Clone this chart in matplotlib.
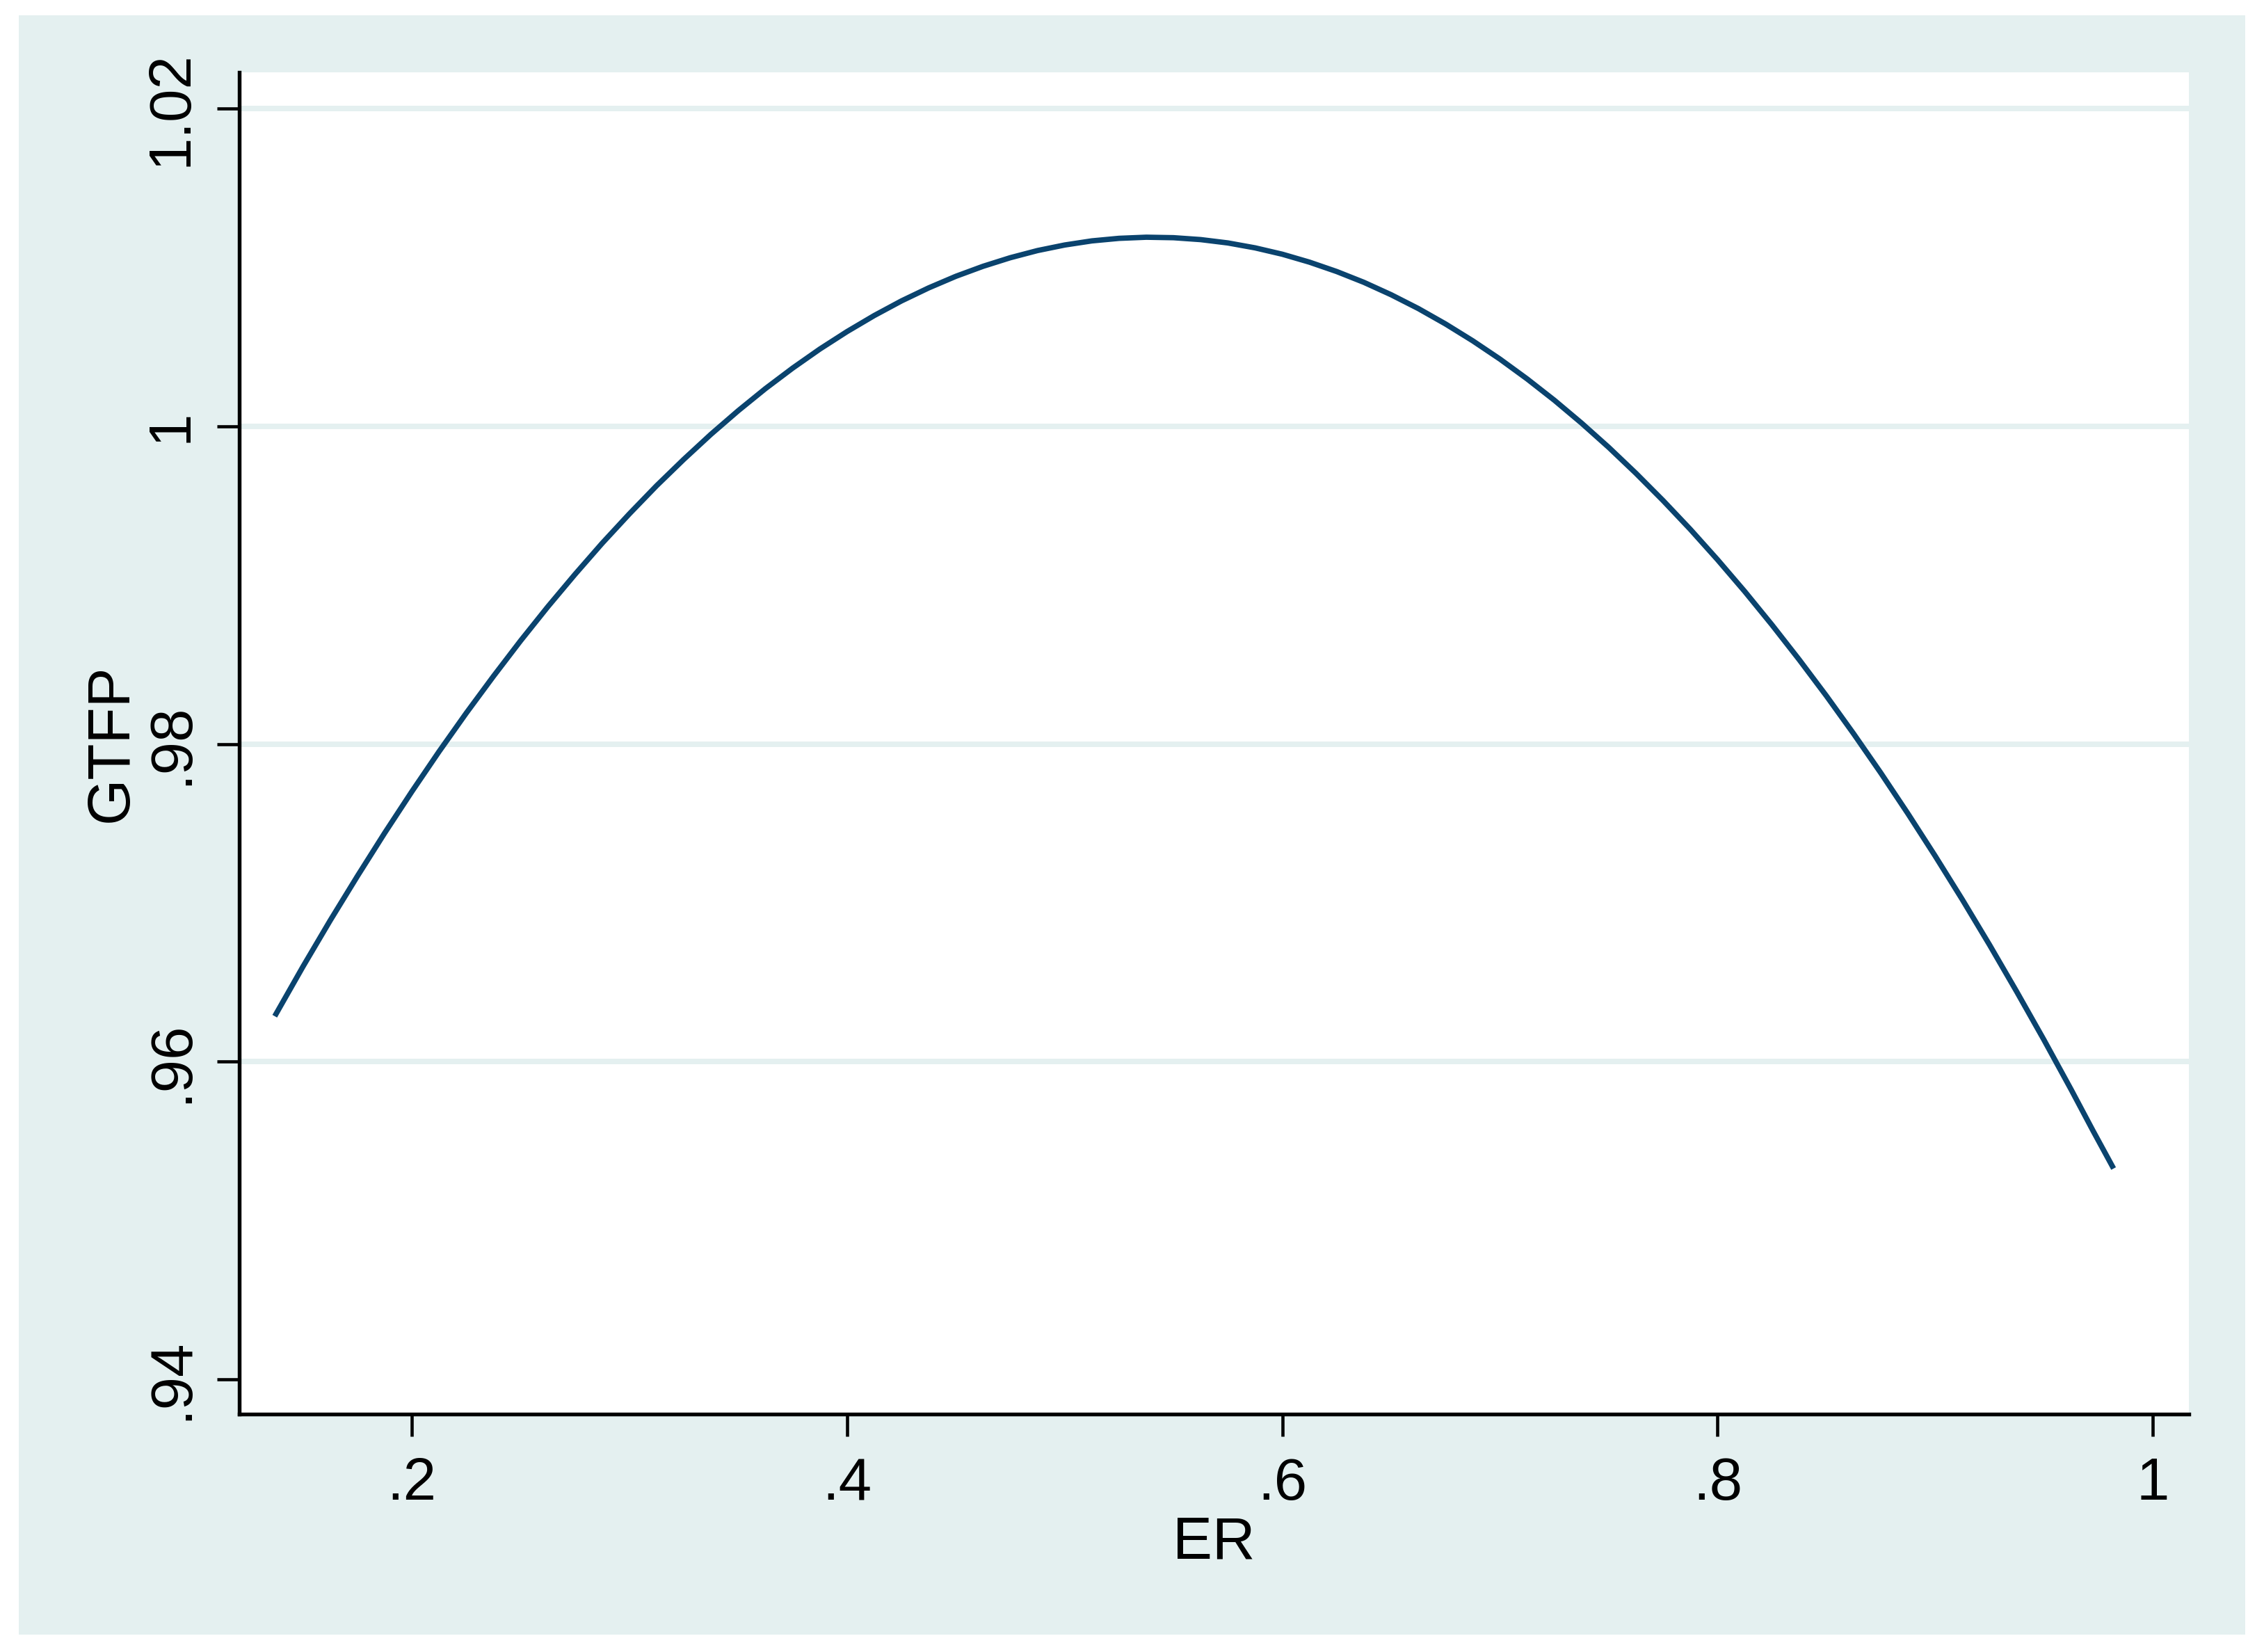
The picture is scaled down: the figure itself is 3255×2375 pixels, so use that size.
import matplotlib
matplotlib.use("Agg")
import matplotlib.pyplot as plt
from matplotlib.patches import Rectangle

# values
er = [0.137, 0.15, 0.1625, 0.175, 0.1875, 0.2, 0.2125, 0.225, 0.2375, 0.25,
      0.2625, 0.275, 0.2875, 0.3, 0.3125, 0.325, 0.3375, 0.35, 0.3625,
      0.375, 0.3875, 0.4, 0.4125, 0.425, 0.4375, 0.45, 0.4625, 0.475,
      0.4875, 0.5, 0.5125, 0.525, 0.5375, 0.55, 0.5625, 0.575, 0.5875, 0.6,
      0.6125, 0.625, 0.6375, 0.65, 0.6625, 0.675, 0.6875, 0.7, 0.7125,
      0.725, 0.7375, 0.75, 0.7625, 0.775, 0.7875, 0.8, 0.8125, 0.825,
      0.8375, 0.85, 0.8625, 0.875, 0.8875, 0.9, 0.9125, 0.925, 0.9375,
      0.95, 0.9625, 0.9725, 0.982]
gtfp = [0.96286, 0.96599, 0.96889, 0.97168, 0.97439, 0.97700, 0.97952,
        0.98194, 0.98426, 0.98650, 0.98864, 0.99068, 0.99264, 0.99449,
        0.99626, 0.99792, 0.99950, 1.00098, 1.00237, 1.00366, 1.00486,
        1.00596, 1.00697, 1.00789, 1.00871, 1.00944, 1.01007, 1.01061,
        1.01106, 1.01141, 1.01167, 1.01183, 1.01190, 1.01187, 1.01175,
        1.01154, 1.01123, 1.01083, 1.01033, 1.00974, 1.00906, 1.00828,
        1.00741, 1.00644, 1.00538, 1.00423, 1.00298, 1.00164, 1.00020,
        0.99867, 0.99704, 0.99532, 0.99351, 0.99160, 0.98960, 0.98750,
        0.98531, 0.98303, 0.98065, 0.97818, 0.97561, 0.97295, 0.97020,
        0.96735, 0.96440, 0.96137, 0.95824, 0.95566, 0.95327]

x_ticks = [0.2, 0.4, 0.6, 0.8, 1.0]
x_tick_labels = [".2", ".4", ".6", ".8", "1"]
y_ticks = [0.94, 0.96, 0.98, 1.0, 1.02]
y_tick_labels = [".94", ".96", ".98", "1", "1.02"]
grid_values = [0.96, 0.98, 1.0, 1.02]

BG = "#E4F0F0"
LINE = "#0A436E"
FONT = ["Liberation Sans", "DejaVu Sans"]

plt.rcParams["font.family"] = FONT

W, H = 3255, 2375
fig = plt.figure(figsize=(W / 300, H / 300), dpi=300, facecolor="white")

# light bluish graph region
fig.patches.append(Rectangle((27 / W, 1 - 2350 / H), 3201 / W, 2328 / H,
                             transform=fig.transFigure, facecolor=BG,
                             edgecolor="none", zorder=-10))

ax = fig.add_axes([344 / W, 1 - 2033 / H, 2803 / W, 1929 / H])
ax.set_zorder(1)
ax.set_facecolor("white")

for g in grid_values:
  ax.axhline(g, color=BG, linewidth=1.9, zorder=1)

ax.plot(er, gtfp, color=LINE, linewidth=1.85, solid_capstyle="butt",
        solid_joinstyle="round", zorder=3)

ax.set_xlim(0.1207, 1.0166)
ax.set_ylim(0.93781, 1.02228)

ax.set_xticks(x_ticks)
ax.set_xticklabels(x_tick_labels)
ax.set_yticks(y_ticks)
ax.set_yticklabels(y_tick_labels, rotation=90, va="center")

ax.tick_params(axis="both", length=7.7, width=1.1, color="black",
               labelsize=20.5, labelcolor="black")
ax.tick_params(axis="x", pad=7)
ax.tick_params(axis="y", pad=6)

for side in ("top", "right"):
  ax.spines[side].set_visible(False)
for side in ("left", "bottom"):
  ax.spines[side].set_linewidth(1.3)
  ax.spines[side].set_color("black")

ax.set_xlabel("ER", fontsize=20.5, labelpad=1)
ax.set_ylabel("GTFP", fontsize=20.5, labelpad=1.5)

fig.savefig("out.png", dpi=300, facecolor="white")
